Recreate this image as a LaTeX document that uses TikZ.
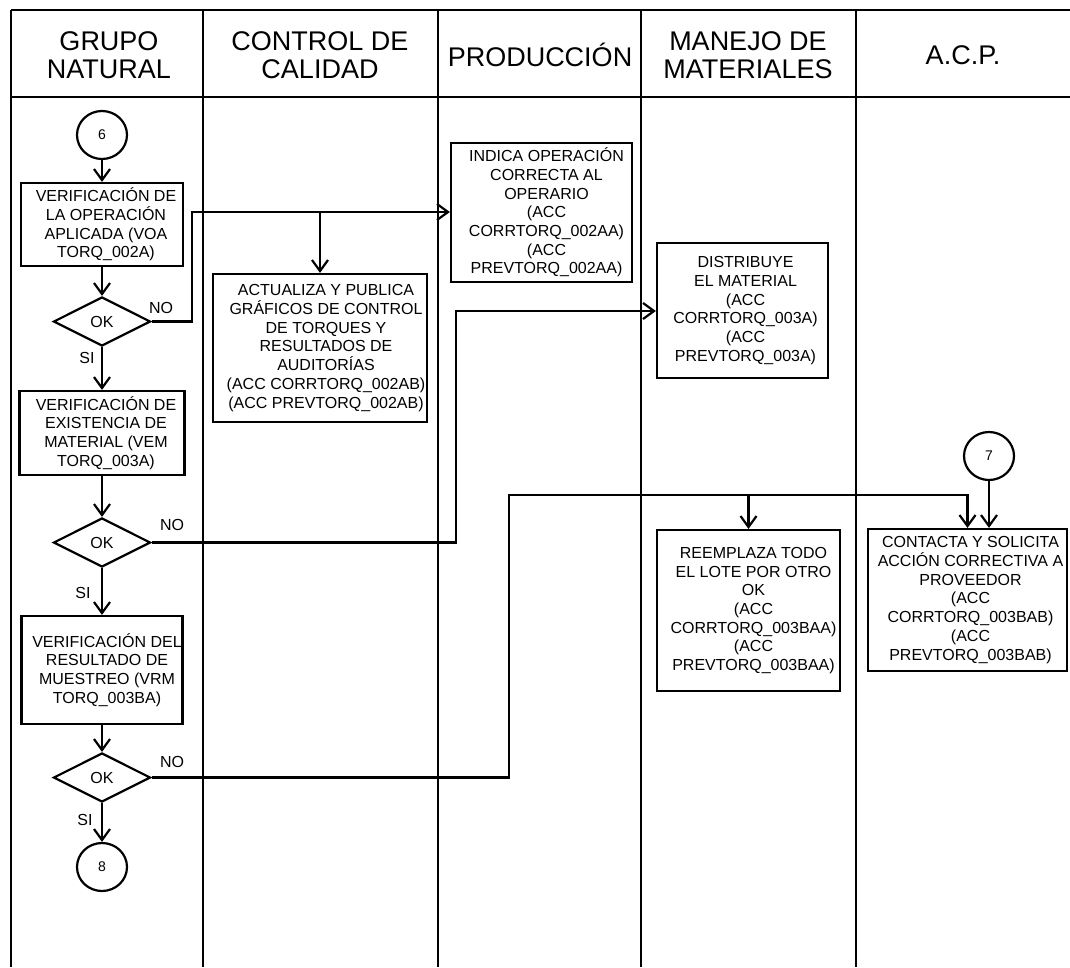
\documentclass[tikz,border=0pt]{standalone}
\usepackage{fontspec}
\setmainfont{Liberation Sans}
\usetikzlibrary{arrows.meta,shapes.geometric}

\tikzset{
  lane/.style={line width=2.4pt},
  box/.style={draw, line width=2.2pt, inner sep=0pt},
  txt/.style={align=center, inner sep=0pt, font=\fontsize{16}{18.7}\selectfont},
  decision/.style={draw, diamond, line width=2.2pt, inner sep=0pt,
    minimum width=97pt, minimum height=49pt, font=\fontsize{16}{18}\selectfont},
  connector/.style={draw, ellipse, line width=2.2pt, inner sep=0pt,
    minimum width=50pt, minimum height=48pt, font=\fontsize{14}{16}\selectfont},
  arr/.style={line width=2.2pt, -{Straight Barb[length=11pt,width=16pt]}},
  head/.style={align=center, inner sep=0pt, font=\fontsize{27}{28}\selectfont},
  lbl/.style={inner sep=0pt, font=\fontsize{16}{18}\selectfont},
}

\begin{document}
\begin{tikzpicture}[x=1pt,y=-1pt]
\useasboundingbox (0,0) rectangle (1070,967);
\fill[white] (0,0) rectangle (1070,967);

% swimlane frame
\draw[lane] (11,10) -- (1070,10);
\draw[lane] (11,97) -- (1070,97);
\foreach \x in {11,203,438,641,856}
  \draw[lane] (\x,10) -- (\x,967);

% lane headers
\node[head] (h1) at (109,55) {GRUPO\\NATURAL};
\node[head] (h2) at (320,55) {CONTROL DE\\CALIDAD};
\node[head] (h3) at (540,55) {PRODUCCIÓN};
\node[head] (h4) at (748,55) {MANEJO DE\\MATERIALES};
\node[head] (h5) at (963,55) {A.C.P.};

% GRUPO NATURAL flow
\node[connector] (c6) at (102,135) {6};
\node[box, minimum width=162pt, minimum height=83pt] (b1) at (102,224.5) {};
\node[txt] (b1t) at ([xshift=4pt]b1.center) {VERIFICACIÓN DE\\LA OPERACIÓN\\APLICADA (VOA\\TORQ\_002A)};
\node[decision] (d1) at (102,321.5) {OK};
\node[box, minimum width=165pt, minimum height=84pt] (b2) at (102,433) {};
\node[txt] (b2t) at ([xshift=4pt]b2.center) {VERIFICACIÓN DE\\EXISTENCIA DE\\MATERIAL (VEM\\TORQ\_003A)};
\node[decision] (d2) at (102,542.5) {OK};
\node[box, minimum width=161pt, minimum height=108pt] (b3) at (102,670) {};
\node[txt] (b3t) at ([xshift=5pt]b3.center) {VERIFICACIÓN DEL\\RESULTADO DE\\MUESTREO (VRM\\TORQ\_003BA)};
\node[decision] (d3) at (102,777.5) {OK};
\node[connector] (c8) at (102,867) {8};

% CONTROL DE CALIDAD
\node[box, minimum width=214pt, minimum height=148pt] (act) at (320,348) {};
\node[txt] (actt) at ([xshift=6pt]act.center) {ACTUALIZA Y PUBLICA\\GRÁFICOS DE CONTROL\\DE TORQUES Y\\RESULTADOS DE\\AUDITORÍAS\\(ACC CORRTORQ\_002AB)\\(ACC PREVTORQ\_002AB)};

% PRODUCCION
\node[box, minimum width=181pt, minimum height=139pt] (ind) at (541.5,212.5) {};
\node[txt] (indt) at ([xshift=5pt]ind.center) {INDICA OPERACIÓN\\CORRECTA AL\\OPERARIO\\(ACC\\CORRTORQ\_002AA)\\(ACC\\PREVTORQ\_002AA)};

% MANEJO DE MATERIALES
\node[box, minimum width=171pt, minimum height=135pt] (dis) at (742.5,310.5) {};
\node[txt] (dist) at ([xshift=3pt]dis.center) {DISTRIBUYE\\EL MATERIAL\\(ACC\\CORRTORQ\_003A)\\(ACC\\PREVTORQ\_003A)};
\node[box, minimum width=183pt, minimum height=161pt] (ree) at (748.5,610.5) {};
\node[txt] (reet) at ([xshift=5pt]ree.center) {REEMPLAZA TODO\\EL LOTE POR OTRO\\OK\\(ACC\\CORRTORQ\_003BAA)\\(ACC\\PREVTORQ\_003BAA)};

% A.C.P.
\node[connector] (c7) at (989,456) {7};
\node[box, minimum width=199pt, minimum height=142pt] (con) at (967.5,600) {};
\node[txt] (cont) at ([xshift=3pt]con.center) {CONTACTA Y SOLICITA\\ACCIÓN CORRECTIVA A\\PROVEEDOR\\(ACC\\CORRTORQ\_003BAB)\\(ACC\\PREVTORQ\_003BAB)};

% main flow
\draw[arr] (c6.south) -- (b1.north);
\draw[arr] (b1.south) -- (d1.north);
\draw[arr] (d1.south) -- (b2.north);
\draw[arr] (b2.south) -- (d2.north);
\draw[arr] (d2.south) -- (b3.north);
\draw[arr] (b3.south) -- (d3.north);
\draw[arr] (d3.south) -- (c8.north);

% branch points of the NO paths
\coordinate (n1) at (192,212);
\coordinate (n2) at (456,311);
\coordinate (n3) at (509,495);

\draw[arr] (d1.east) -| (n1) -- (n1 -| ind.west);
\draw[arr] (act.north |- n1) -- (act.north);
\draw[arr] (d2.east) -| (n2) -- (n2 -| dis.west);
\draw[arr] (d3.east) -| (n3) -| (con.north);
\draw[arr] (ree.north |- n3) -- (ree.north);
\draw[arr] (c7.south) -- (c7.south |- con.north);

% decision labels
\node[lbl] (no1) at (161,308) {NO};
\node[lbl] (si1) at (87,358) {SI};
\node[lbl] (no2) at (172,525) {NO};
\node[lbl] (si2) at (83,593) {SI};
\node[lbl] (no3) at (172,762) {NO};
\node[lbl] (si3) at (85,820) {SI};
\end{tikzpicture}
\end{document}
